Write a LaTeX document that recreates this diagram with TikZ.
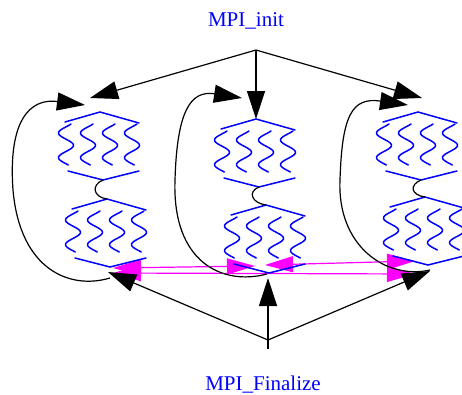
\documentclass[tikz,border=0pt]{standalone}
\usepackage{fontspec}
\setmainfont{Liberation Serif}
\usetikzlibrary{arrows.meta,calc}
\definecolor{mpiblue}{RGB}{0,0,255}
\definecolor{mpimag}{RGB}{255,0,255}

\begin{document}
\begin{tikzpicture}[x=1pt,y=-1pt,
  thread/.style={draw=mpiblue,line width=1.5pt,line cap=round},
  flow/.style={draw=black,line width=1.2pt,-{Triangle[length=28pt,width=18pt]}},
  link/.style={draw=black,line width=1.2pt},
  msg/.style={draw=mpimag,line width=1.2pt,
    {Triangle[length=28pt,width=16pt]}-{Triangle[length=28pt,width=16pt]}},
  mpitext/.style={text=mpiblue,font=\fontsize{21}{25}\selectfont,anchor=base,inner sep=0pt},
  proc/.pic={
    % upper and lower chevrons of a process with its four threads
    \coordinate (-top) at (0,0);
    \coordinate (-bot) at (3,68);
    \draw[thread] (-35,10) -- (0,0) -- (39,11);
    \foreach \cx in {-34,-12,10,32}
      \draw[thread] plot[domain=0:1,samples=36,variable=\s]
        ({\cx-7.5*sin(360*(\s-0.07)/0.6)},{12+41*\s});
    \draw[thread] (-32,59) -- (3,68) -- (39,59);
  }]
\useasboundingbox (0,0) rectangle (462,394);

% labels and their anchor points
\node[mpitext] (initlbl) at (246,26.5) {MPI\_init};
\node[mpitext] (finlbl) at (263,390.5) {MPI\_Finalize};
\coordinate (init) at (256,50);
\coordinate (fin) at (268,340);
\coordinate (finstub) at (268,349);

% message arrows between the lower processes
\coordinate (pa) at (113,268);
\coordinate (pb) at (255,266);
\coordinate (qa) at (265,265);
\coordinate (qb) at (415,261);
\coordinate (ra) at (113,273);
\coordinate (rb) at (415,274);
\draw[msg] (pa) -- (pb);
\draw[msg] (qa) -- (qb);
\draw[msg] (ra) -- (rb);

% three columns of processes
\pic (u1) at (100,112) {proc};
\pic (d1) at (107,199) {proc};
\pic (u2) at (256,119) {proc};
\pic (d2) at (266,205) {proc};
\pic (u3) at (418,112) {proc};
\pic (d3) at (425,197) {proc};

% small links between upper and lower process
\foreach \c in {1,2,3}
  \draw[link] (u\c-bot) .. controls ($(u\c-bot)+(-12,5)$) and ($(d\c-top)+(-14,-2)$) .. (d\c-top);

% MPI_init fan-out
\coordinate (in1) at (90,98);
\coordinate (in3) at (422,98);
\draw[flow] (init) -- (in1);
\draw[flow] (init) -- (u2-top);
\draw[flow] (init) -- (in3);

% loops back to the top of each column
\coordinate (l1s) at (110,278);
\coordinate (l1e) at (85,105);
\coordinate (l2s) at (267,274);
\coordinate (l2e) at (242,98);
\coordinate (l3s) at (430,270);
\coordinate (l3e) at (408,105);
\draw[flow] (l1s) .. controls (70,290) and (20,270) .. (13,190)
  .. controls (8,120) and (30,98) .. (l1e);
\draw[flow] (l2s) .. controls (222,286) and (172,262) .. (175,180)
  .. controls (177,112) and (190,90) .. (l2e);
\draw[flow] (l3s) .. controls (385,280) and (337,245) .. (340,180)
  .. controls (342,115) and (352,97) .. (l3e);

% MPI_Finalize fan-in
\coordinate (f1) at (108,272);
\coordinate (f2) at (268,278);
\coordinate (f3) at (430,271);
\draw[link] (fin) -- (finstub);
\draw[flow] (fin) -- (f1);
\draw[flow] (fin) -- (f2);
\draw[flow] (fin) -- (f3);
\end{tikzpicture}
\end{document}
